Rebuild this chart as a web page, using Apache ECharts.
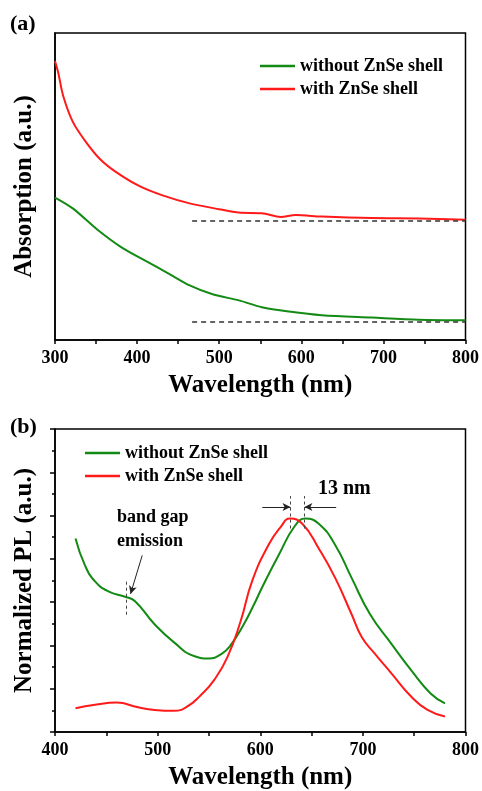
<!DOCTYPE html>
<html>
<head>
<meta charset="utf-8">
<script src="https://cdn.jsdelivr.net/npm/echarts@6/dist/echarts.min.js"></script>
<style>
  body { margin: 0; background: #fff; }
  #chart { width: 482px; height: 791px; }
</style>
</head>
<body>
<div id="chart"></div>
<script>
// (a) absorption, arbitrary units
var absWithShellNm = [300, 304, 310, 322, 338, 355, 375, 403, 431, 464, 500, 524, 552, 575, 593, 625, 686, 743, 800];
var absWithShell = [0.909, 0.870, 0.795, 0.709, 0.644, 0.589, 0.546, 0.501, 0.471, 0.445, 0.426, 0.415, 0.413, 0.401, 0.407, 0.402, 0.397, 0.396, 0.392];
var absNoShellNm = [300, 322, 351, 381, 411, 440, 464, 492, 524, 552, 585, 625, 686, 743, 800];
var absNoShell = [0.464, 0.428, 0.361, 0.302, 0.257, 0.214, 0.178, 0.149, 0.129, 0.107, 0.093, 0.081, 0.073, 0.066, 0.064];
var absBaselines = [0.389, 0.059]; // dashed reference lines
var absBaselineStart = 467;

// (b) normalized PL
var plNoShellNm = [420, 429, 439, 452, 469, 478, 497, 516, 536, 550, 562, 571, 584, 594, 602, 618, 634, 644, 657, 673, 689, 707, 728, 747, 766, 780];
var plNoShell = [4.47, 3.86, 3.48, 3.25, 3.12, 3.02, 2.49, 2.07, 1.75, 1.70, 1.80, 2.00, 2.49, 2.95, 3.35, 4.09, 4.77, 4.93, 4.81, 4.32, 3.56, 2.72, 2.03, 1.43, 0.89, 0.66];
var plWithShellNm = [420, 439, 460, 481, 497, 516, 529, 542, 555, 568, 581, 592, 608, 620, 629, 641, 657, 673, 689, 699, 712, 728, 747, 763, 780];
var plWithShell = [0.55, 0.63, 0.68, 0.57, 0.51, 0.49, 0.59, 0.85, 1.20, 1.73, 2.57, 3.48, 4.32, 4.74, 4.93, 4.81, 4.24, 3.56, 2.72, 2.19, 1.80, 1.35, 0.82, 0.51, 0.36];
var peakRed = 629.5, peakGreen = 643;
var bandGapNm = 469.4;

var seriesNames = ["without ZnSe shell", "with ZnSe shell"];
var GREEN = "#138a13";
var RED = "#ff1a1a";
var FONT = "Liberation Serif";

function pairs(xs, ys) {
  return xs.map(function (x, i) { return [x, ys[i]]; });
}

var chart = echarts.init(document.getElementById("chart"));

function xAxisFor(grid, min) {
  return {
    type: "value", gridIndex: grid, min: min, max: 800, interval: 100,
    axisLine: { show: true, onZero: false, lineStyle: { color: "#000", width: 1.5 } },
    axisTick: { show: true, inside: false, length: 4, lineStyle: { color: "#000", width: 1.5 } },
    minorTick: { show: true, splitNumber: 2, length: 4, lineStyle: { color: "#000", width: 1.5 } },
    splitLine: { show: false },
    axisLabel: { color: "#000", fontFamily: FONT, fontWeight: "bold", fontSize: 18, margin: 9 },
    name: "Wavelength (nm)", nameLocation: "middle", nameGap: 33,
    nameTextStyle: { color: "#000", fontFamily: FONT, fontWeight: "bold", fontSize: 25 }
  };
}

function legendAt(left, top) {
  return {
    orient: "vertical", left: left, top: top, icon: "rect",
    itemWidth: 35, itemHeight: 2.5, itemGap: 5,
    data: seriesNames,
    textStyle: { color: "#000", fontFamily: FONT, fontWeight: "bold", fontSize: 18, lineHeight: 18 }
  };
}

var option = {
  animation: false,
  backgroundColor: "#fff",
  grid: [
    { left: 55, right: 15, top: 33, height: 307, show: true, borderColor: "#000", borderWidth: 1.5 },
    { left: 55, right: 14, top: 429, height: 307, show: true, borderColor: "#000", borderWidth: 1.5 }
  ],
  legend: [legendAt(255, 52), legendAt(80, 439)],
  xAxis: [xAxisFor(0, 300), xAxisFor(1, 400)],
  yAxis: [
    {
      type: "value", gridIndex: 0, min: 0, max: 1,
      axisLine: { show: true, lineStyle: { color: "#000", width: 1.5 } },
      axisTick: { show: false }, axisLabel: { show: false }, splitLine: { show: false },
      name: "Absorption (a.u.)", nameLocation: "middle", nameGap: 18,
      nameTextStyle: { color: "#000", fontFamily: FONT, fontWeight: "bold", fontSize: 25 }
    },
    {
      type: "value", gridIndex: 1, min: 0, max: 7, interval: 1,
      axisLine: { show: true, lineStyle: { color: "#000", width: 1.5 } },
      axisTick: { show: true, inside: false, length: 5, lineStyle: { color: "#000", width: 1.5 } },
      minorTick: { show: true, splitNumber: 2, length: 3, lineStyle: { color: "#000", width: 1.5 } },
      axisLabel: { show: false }, splitLine: { show: false },
      name: "Normalized PL (a.u.)", nameLocation: "middle", nameGap: 18,
      nameTextStyle: { color: "#000", fontFamily: FONT, fontWeight: "bold", fontSize: 25 }
    }
  ],
  series: [
    {
      name: seriesNames[0], type: "line", xAxisIndex: 0, yAxisIndex: 0,
      data: pairs(absNoShellNm, absNoShell), symbol: "none", smooth: 0.3,
      lineStyle: { color: GREEN, width: 2 }, itemStyle: { color: GREEN },
      markLine: {
        silent: true, symbol: "none", label: { show: false },
        lineStyle: { color: "#333", width: 1.5, type: [5, 4] },
        data: [[{ coord: [absBaselineStart, absBaselines[1]] }, { coord: [800, absBaselines[1]] }]]
      }
    },
    {
      name: seriesNames[1], type: "line", xAxisIndex: 0, yAxisIndex: 0,
      data: pairs(absWithShellNm, absWithShell), symbol: "none", smooth: 0.3,
      lineStyle: { color: RED, width: 2 }, itemStyle: { color: RED },
      markLine: {
        silent: true, symbol: "none", label: { show: false },
        lineStyle: { color: "#333", width: 1.5, type: [5, 4] },
        data: [[{ coord: [absBaselineStart, absBaselines[0]] }, { coord: [800, absBaselines[0]] }]]
      }
    },
    {
      name: seriesNames[0], type: "line", xAxisIndex: 1, yAxisIndex: 1,
      data: pairs(plNoShellNm, plNoShell), symbol: "none", smooth: 0.5,
      lineStyle: { color: GREEN, width: 2 }, itemStyle: { color: GREEN }
    },
    {
      name: seriesNames[1], type: "line", xAxisIndex: 1, yAxisIndex: 1,
      data: pairs(plWithShellNm, plWithShell), symbol: "none", smooth: 0.5,
      lineStyle: { color: RED, width: 2 }, itemStyle: { color: RED }
    },
    {
      // dashed guides at peaks and band gap shoulder
      name: "guides", type: "line", xAxisIndex: 1, yAxisIndex: 1, data: [],
      markLine: {
        silent: true, symbol: "none", label: { show: false },
        lineStyle: { color: "#444", width: 1, type: [3, 3] },
        data: [
          [{ coord: [peakRed, 4.70] }, { coord: [peakRed, 5.45] }],
          [{ coord: [peakGreen, 4.70] }, { coord: [peakGreen, 5.45] }],
          [{ coord: [bandGapNm, 2.71] }, { coord: [bandGapNm, 3.49] }]
        ]
      }
    },
    {
      name: "arrows", type: "line", xAxisIndex: 1, yAxisIndex: 1, data: [],
      markLine: {
        silent: true, symbol: ["none", "arrow"], symbolSize: [6, 8], label: { show: false },
        lineStyle: { color: "#222", width: 1, type: "solid" },
        data: [
          [{ coord: [602, 5.2] }, { coord: [peakRed, 5.2] }],
          [{ coord: [674, 5.2] }, { coord: [peakGreen, 5.2] }],
          [{ coord: [485, 4.08] }, { coord: [473.6, 3.19] }]
        ]
      }
    }
  ],
  graphic: [
    { type: "text", left: 10, top: 13, style: { text: "(a)", font: "bold 22px 'Liberation Serif'", fill: "#000" } },
    { type: "text", left: 10, top: 416, style: { text: "(b)", font: "bold 22px 'Liberation Serif'", fill: "#000" } },
    { type: "text", left: 318, top: 479, style: { text: "13 nm", font: "bold 20px 'Liberation Serif'", fill: "#000" } },
    { type: "text", left: 117, top: 508, style: { text: "band gap", font: "bold 18px 'Liberation Serif'", fill: "#000" } },
    { type: "text", left: 117, top: 532, style: { text: "emission", font: "bold 18px 'Liberation Serif'", fill: "#000" } }
  ]
};

chart.setOption(option);
</script>
</body>
</html>
